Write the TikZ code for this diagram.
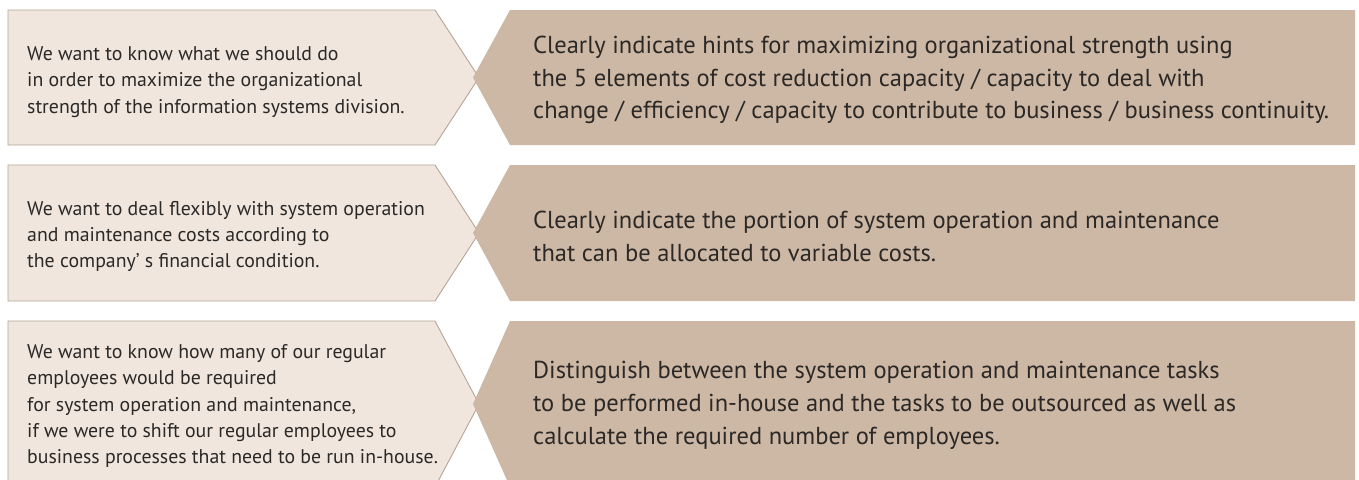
\documentclass[tikz,border=0pt]{standalone}
\usepackage{fontspec}
\setmainfont{PT Sans}
\definecolor{lightfill}{HTML}{F0E6DE}
\definecolor{lightedge}{HTML}{B4A597}
\definecolor{darkfill}{HTML}{CDB8A5}
\definecolor{txtcol}{HTML}{2B2826}
\tikzset{
  needbox/.style={fill=lightfill, draw=lightedge, line width=0.9pt},
  answerbox/.style={fill=darkfill},
  needtext/.style={anchor=west, align=left, inner sep=0pt, text=txtcol, font=\fontsize{19.8}{26.3}\selectfont},
  answertext/.style={anchor=west, align=left, inner sep=0pt, text=txtcol, font=\fontsize{24.5}{32.7}\selectfont}
}
\begin{document}
\begin{tikzpicture}[x=1pt,y=-1pt]
\useasboundingbox (0,0) rectangle (1359,479);
\clip (0,0) rectangle (1359,479);
% row 1
\draw[needbox] (8,10) -- (435,10) -- (479,77.5) -- (435,145) -- (8,145) -- cycle;
\fill[answerbox] (510,10) -- (1355,10) -- (1355,145) -- (510,145) -- (473,77.5) -- cycle;
% row 2
\draw[needbox] (8,165) -- (435,165) -- (479,233) -- (435,301) -- (8,301) -- cycle;
\fill[answerbox] (510,165) -- (1355,165) -- (1355,301) -- (510,301) -- (473,233) -- cycle;
% row 3
\draw[needbox] (8,321) -- (435,321) -- (479,404) -- (435,487) -- (8,487) -- cycle;
\fill[answerbox] (510,321) -- (1355,321) -- (1355,487) -- (510,487) -- (473,404) -- cycle;
% texts
\node[needtext] (n1) at (27,82) {We want to know what we should do\\in order to maximize the organizational\\strength of the information systems division.};
\node[answertext] (a1) at (533,80) {Clearly indicate hints for maximizing organizational strength using\\the 5 elements of cost reduction capacity / capacity to deal with\\change / efficiency / capacity to contribute to business / business continuity.};
\node[needtext] (n2) at (27,236.5) {We want to deal flexibly with system operation\\and maintenance costs according to\\the company’ s financial condition.};
\node[answertext] (a2) at (533,236.5) {Clearly indicate the portion of system operation and maintenance\\that can be allocated to variable costs.};
\node[needtext] (n3) at (27,406) {We want to know how many of our regular\\employees would be required\\for system operation and maintenance,\\if we were to shift our regular employees to\\business processes that need to be run in-house.};
\node[answertext] (a3) at (533,405.5) {Distinguish between the system operation and maintenance tasks\\to be performed in-house and the tasks to be outsourced as well as\\calculate the required number of employees.};
\end{tikzpicture}
\end{document}
